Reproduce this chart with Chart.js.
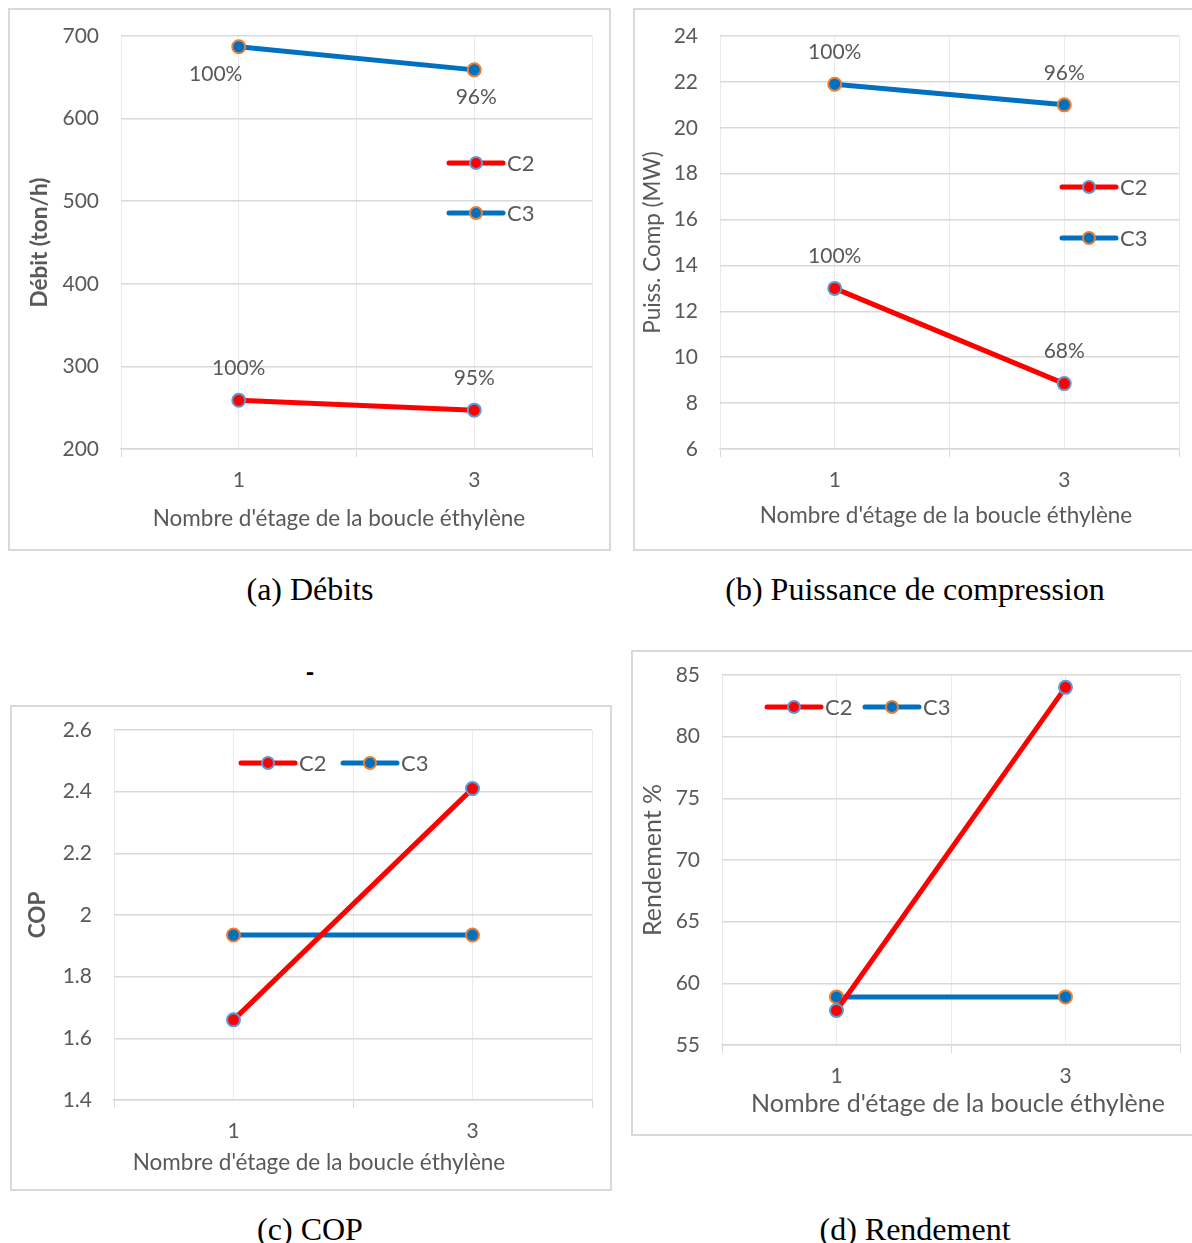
<!DOCTYPE html>
<html>
<head>
<meta charset="utf-8">
<script src="https://cdn.jsdelivr.net/npm/chart.js@4.4.0/dist/chart.umd.min.js"></script>
<style>
  body { margin: 0; background: #fff; width: 1192px; height: 1243px; position: relative; overflow: hidden; }
  .panel { position: absolute; border: 2px solid #d9d9d9; box-sizing: border-box; }
  .panel canvas { position: absolute; left: -2px; top: -2px; }
  .caption { position: absolute; font-family: 'Liberation Serif', 'Times New Roman', serif; font-size: 32px; color: #000;
             transform: translateX(-50%); white-space: nowrap; line-height: 1; }
  .dash { position: absolute; left: 310px; top: 660px; font-family: Lato, sans-serif; font-weight: 900; font-size: 24px;
          transform: translateX(-50%); line-height: 1; }
</style>
</head>
<body>

<div class="panel" id="panelA"><canvas></canvas></div>
<div class="panel" id="panelB"><canvas></canvas></div>
<div class="panel" id="panelC"><canvas></canvas></div>
<div class="panel" id="panelD"><canvas></canvas></div>

<div class="caption" style="left:310px; top:573px;">(a) Débits</div>
<div class="caption" style="left:915px; top:573px;">(b) Puissance de compression</div>
<div class="dash">-</div>
<div class="caption" style="left:310px; top:1213px;">(c) COP</div>
<div class="caption" style="left:915px; top:1213px;">(d) Rendement</div>

<script>
// Number of ethylene loop stages (x values)
const stages = [1, 3];
const seriesNames = ['C2', 'C3'];

// Débits (ton/h)
const debitC2 = [259, 247];
const debitC3 = [687, 659];
const debitC2Pct = ['100%', '95%'];
const debitC3Pct = ['100%', '96%'];
const debitTicks = [200, 700, 100];

// Puissance de compression (MW)
const puissC2 = [13.0, 8.85];
const puissC3 = [21.9, 21.0];
const puissC2Pct = ['100%', '68%'];
const puissC3Pct = ['100%', '96%'];
const puissTicks = [6, 24, 2];

// COP
const copC2 = [1.66, 2.41];
const copC3 = [1.935, 1.935];
const copTicks = [1.4, 2.6, 0.2];

// Rendement %
const rendC2 = [57.8, 84.0];
const rendC3 = [58.9, 58.9];
const rendTicks = [55, 85, 5];

const RED = '#ff0000';
const BLUE = '#0070c0';
const RED_EDGE = '#5b9bd5';
const BLUE_EDGE = '#ed7d31';
const TEXT = '#595959';
const FONT = 'Lato, Carlito, sans-serif';

Chart.defaults.font.family = FONT;
Chart.defaults.color = TEXT;

// Draws the in-plot legend, the percentage labels and the x axis title
const decorPlugin = {
  id: 'decor',
  afterDatasetsDraw(chart, args, opts) {
    const ctx = chart.ctx;
    ctx.save();
    ctx.fillStyle = TEXT;
    ctx.textBaseline = 'middle';

    // point labels
    ctx.font = '21px ' + FONT;
    (opts.labels || []).forEach(lab => {
      const meta = chart.getDatasetMeta(lab.dataset);
      meta.data.forEach((pt, i) => {
        const dx = (lab.dx && lab.dx[i]) || 0;
        ctx.textAlign = 'center';
        ctx.fillText(lab.text[i], pt.x + dx, pt.y + (lab.below ? 27 : -32));
      });
    });

    // legend entries
    ctx.font = '22px ' + FONT;
    (opts.legend || []).forEach((item, k) => {
      const ds = chart.data.datasets[k];
      ctx.strokeStyle = ds.borderColor;
      ctx.lineWidth = 5;
      ctx.lineCap = 'round';
      ctx.beginPath();
      ctx.moveTo(item.x - 27, item.y);
      ctx.lineTo(item.x + 27, item.y);
      ctx.stroke();
      ctx.beginPath();
      ctx.arc(item.x, item.y, 6, 0, Math.PI * 2);
      ctx.fillStyle = ds.pointBackgroundColor;
      ctx.fill();
      ctx.lineWidth = 2;
      ctx.strokeStyle = ds.pointBorderColor;
      ctx.stroke();
      ctx.fillStyle = TEXT;
      ctx.textAlign = 'left';
      ctx.fillText(seriesNames[k], item.x + 31, item.y + 1);
    });

    // x axis title
    if (opts.xTitle) {
      ctx.font = opts.xTitle.size + 'px ' + FONT;
      ctx.textAlign = 'center';
      ctx.fillStyle = TEXT;
      ctx.fillText(opts.xTitle.text, opts.xTitle.x, opts.xTitle.y);
    }
    ctx.restore();
  }
};

function series(label, values, color, edge) {
  return {
    label: label,
    data: stages.map((s, i) => ({ x: s, y: values[i] })),
    borderColor: color,
    borderWidth: 5,
    pointBackgroundColor: color,
    pointBorderColor: edge,
    pointBorderWidth: 2,
    pointRadius: 6.5,
    tension: 0
  };
}

function makePanel(id, cfg) {
  const box = cfg.box, plot = cfg.plot;
  const titleSize = cfg.titleSize || 22.5;
  const el = document.getElementById(id);
  el.style.left = box.x + 'px';
  el.style.top = box.y + 'px';
  el.style.width = box.w + 'px';
  el.style.height = box.h + 'px';
  const canvas = el.querySelector('canvas');
  canvas.width = box.w;
  canvas.height = box.h;

  const toLocal = p => ({ x: p.x - box.x, y: p.y - box.y });

  new Chart(canvas, {
    type: 'line',
    data: {
      datasets: [
        series('C2', cfg.c2, RED, RED_EDGE),
        series('C3', cfg.c3, BLUE, BLUE_EDGE)
      ]
    },
    options: {
      responsive: false,
      animation: false,
      events: [],
      layout: {
        padding: { top: plot.top - box.y, right: box.x + box.w - plot.right, left: 0, bottom: 0 }
      },
      scales: {
        x: {
          type: 'linear',
          min: 0,
          max: 4,
          afterFit: s => {
            s.height = box.y + box.h - plot.bottom;
            s.paddingLeft = 0;
            s.paddingRight = 0;
          },
          ticks: {
            stepSize: 1,
            autoSkip: false,
            maxRotation: 0,
            padding: 11,
            font: { size: 21 },
            callback: v => stages.includes(v) ? String(v) : ''
          },
          grid: {
            color: '#ebebeb',
            tickLength: 8,
            tickColor: c => c.tick && c.tick.value % 2 === 0 ? '#d9d9d9' : 'rgba(0,0,0,0)'
          },
          border: { display: true, color: '#d9d9d9', width: 1.5 }
        },
        y: {
          min: cfg.ticks[0],
          max: cfg.ticks[1],
          afterFit: s => {
            s.width = plot.left - box.x;
            s.paddingTop = 0;
            s.paddingBottom = 0;
          },
          ticks: {
            stepSize: cfg.ticks[2],
            padding: 22,
            font: { size: 21 },
            callback: v => String(Math.round(v * 10) / 10)
          },
          grid: { color: '#d9d9d9', lineWidth: 1.5, drawTicks: false },
          border: { display: false },
          title: {
            display: true,
            text: cfg.yTitle,
            color: TEXT,
            font: { size: titleSize, weight: cfg.yBold ? 'bold' : 'normal' },
            padding: { top: cfg.yTitlePad, bottom: 0 }
          }
        }
      },
      plugins: {
        legend: { display: false },
        tooltip: { enabled: false },
        decor: {
          labels: cfg.labels || [],
          legend: cfg.legend.map(toLocal),
          xTitle: Object.assign({ text: "Nombre d'étage de la boucle éthylène", size: titleSize }, toLocal(cfg.xTitle))
        }
      }
    },
    plugins: [decorPlugin]
  });
}

makePanel('panelA', {
  box: { x: 8, y: 8, w: 603, h: 543 },
  plot: { left: 121, top: 36, right: 592, bottom: 449 },
  c2: debitC2, c3: debitC3, ticks: debitTicks,
  yTitle: 'Débit (ton/h)', yBold: true, yTitlePad: 18,
  labels: [
    { dataset: 0, text: debitC2Pct, below: false },
    { dataset: 1, text: debitC3Pct, below: true, dx: [-23, 2] }
  ],
  legend: [{ x: 476, y: 163 }, { x: 476, y: 213 }],
  xTitle: { x: 339, y: 519 }
});

makePanel('panelB', {
  box: { x: 633, y: 8, w: 572, h: 543 },
  plot: { left: 720, top: 36, right: 1179, bottom: 449 },
  c2: puissC2, c3: puissC3, ticks: puissTicks,
  yTitle: 'Puiss. Comp (MW)', yBold: false, yTitlePad: 6,
  labels: [
    { dataset: 0, text: puissC2Pct, below: false },
    { dataset: 1, text: puissC3Pct, below: false }
  ],
  legend: [{ x: 1089, y: 187 }, { x: 1089, y: 238 }],
  xTitle: { x: 946, y: 516 }
});

makePanel('panelC', {
  box: { x: 10, y: 705, w: 602, h: 486 },
  plot: { left: 114, top: 730, right: 592, bottom: 1100 },
  c2: copC2, c3: copC3, ticks: copTicks,
  yTitle: 'COP', yBold: true, yTitlePad: 14,
  legend: [{ x: 268, y: 763 }, { x: 370, y: 763 }],
  xTitle: { x: 319, y: 1163 }
});

makePanel('panelD', {
  box: { x: 631, y: 650, w: 574, h: 486 },
  plot: { left: 722, top: 675, right: 1180, bottom: 1045 },
  c2: rendC2, c3: rendC3, ticks: rendTicks,
  yTitle: 'Rendement %', yBold: false, yTitlePad: 7, titleSize: 25,
  legend: [{ x: 794, y: 707 }, { x: 892, y: 707 }],
  xTitle: { x: 958, y: 1104 }
});
</script>
</body>
</html>
